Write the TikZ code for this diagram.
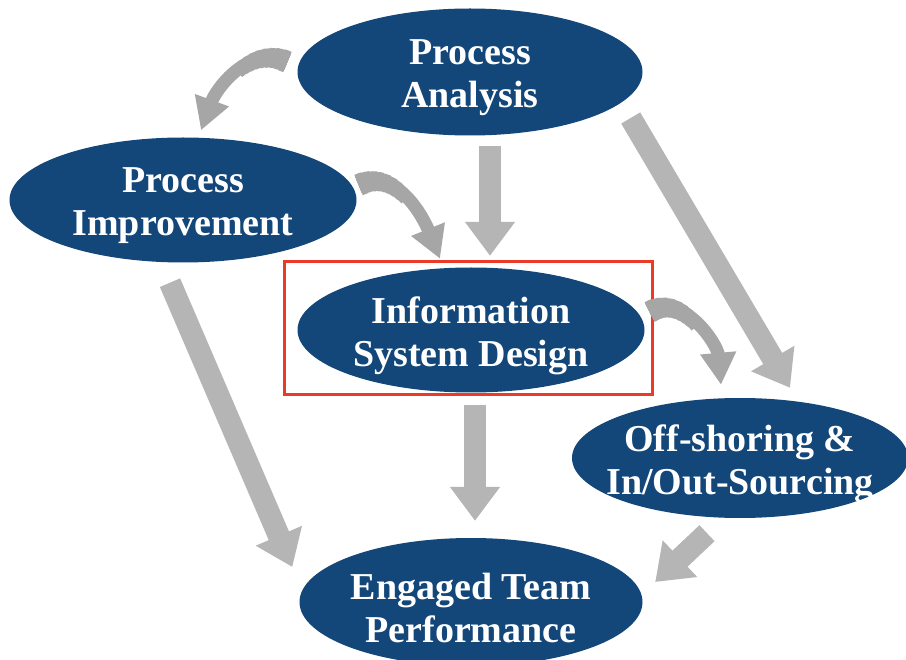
\documentclass[tikz,border=0pt]{standalone}
\usepackage{fontspec}
\setmainfont{Liberation Serif}
\usetikzlibrary{arrows.meta,shapes.geometric}

\definecolor{navy}{RGB}{19,70,121}
\definecolor{flowgray}{RGB}{181,181,181}
\definecolor{bendgray}{RGB}{166,166,166}
\definecolor{focusred}{RGB}{235,58,40}

\tikzset{
  stage/.style={ellipse, fill=navy, inner sep=0pt},
  stagetext/.style={text=white, align=center, yshift=-6pt,
    font=\bfseries\fontsize{38}{43}\selectfont},
  flow/.style={draw=flowgray, line width=22pt,
    -{Triangle[width=48pt,length=34pt]}},
  curveflow/.style={draw=bendgray, line width=13pt,
    -{Triangle[width=34pt,length=32pt]}},
  curvebase/.style={draw=bendgray, line width=#1},
  focus/.style={draw=focusred, line width=3pt}
}

% a curved flow whose shaft narrows gradually from the tail towards the head
\newcommand\curvedflow[4]{%
  \foreach \w in {14,...,22} {
    \pgfmathsetmacro\seglen{(23-\w)*6}
    \draw[curvebase=\w pt, dash pattern=on \seglen pt off 2000pt] #1 to[out=#3,in=#4] #2;
  }
  \draw[curveflow] #1 to[out=#3,in=#4] #2;
}

\begin{document}
\begin{tikzpicture}[x=1pt,y=1pt]
  \useasboundingbox[fill=white] (0,0) rectangle (906,-660);

  % stages
  \node[stage, minimum width=345, minimum height=127,
    label={[stagetext]center:Process\\Analysis}] (pa) at (470,-72) {};
  \node[stage, minimum width=347, minimum height=125,
    label={[stagetext]center:Process\\Improvement}] (pi) at (183,-200) {};
  \node[stage, minimum width=347, minimum height=125,
    label={[stagetext]center:Information\\System Design}] (isd) at (471,-330) {};
  \node[stage, minimum width=336, minimum height=120,
    label={[stagetext]center:Off-shoring \&\\In/Out-Sourcing}] (off) at (740,-458) {};
  \node[stage, minimum width=343, minimum height=128,
    label={[stagetext]center:Engaged Team\\Performance}] (etp) at (471,-602) {};

  % highlight frame around the central stage
  \node[focus, minimum width=368, minimum height=133, inner sep=0pt] (frame) at (468,-328.5) {};

  % straight flows
  \draw[flow] ([xshift=20pt,yshift=-10pt]pa.south) -- ([xshift=19pt,yshift=11.5pt]isd.north);
  \draw[flow] ([xshift=4pt,yshift=-12pt]isd.south) -- ([xshift=4pt,yshift=17pt]etp.north);
  \draw[flow] ([xshift=-12pt,yshift=-46pt]pa.east) -- ([xshift=50pt,yshift=10pt]off.north);
  \draw[flow] ([xshift=-13pt,yshift=-20pt]pi.south) -- ([xshift=-7pt,yshift=35pt]etp.west);
  \draw[flow] ([xshift=-33pt,yshift=-15pt]off.south) -- ([xshift=12.5pt,yshift=20pt]etp.east);

  % curved flows
  \curvedflow{([xshift=-10pt,yshift=10pt]pa.west)}{([xshift=18pt,yshift=7pt]pi.north)}{155}{70}
  \curvedflow{([xshift=2pt,yshift=15pt]pi.east)}{([xshift=-31pt,yshift=8.5pt]isd.north)}{25}{112}
  \curvedflow{([xshift=5pt,yshift=18pt]isd.east)}{([xshift=-19pt,yshift=13pt]off.north)}{30}{95}
\end{tikzpicture}
\end{document}
